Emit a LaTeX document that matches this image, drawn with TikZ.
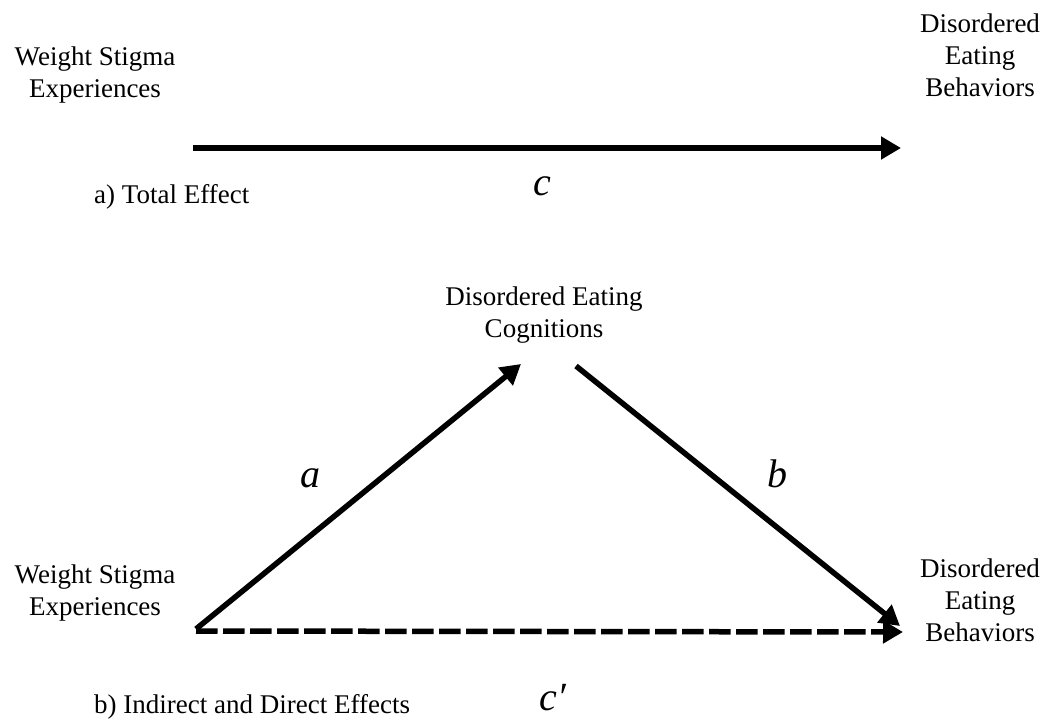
\documentclass[tikz,border=0pt]{standalone}
\usepackage{fontspec}
\setmainfont{Liberation Serif}
\newfontfamily\labfont{Liberation Serif}
\usetikzlibrary{arrows.meta}
\tikzset{
  txt/.style={font=\fontsize{27}{32}\selectfont, align=center, inner sep=0pt},
  lab/.style={font=\labfont\itshape\fontsize{40}{42}\selectfont, inner sep=0pt},
  conn/.style={line width=5.5pt, -{Triangle[length=20pt,width=22pt]}},
  dconn/.style={conn, dash pattern=on 21.5pt off 5.5pt}
}
\begin{document}
\begin{tikzpicture}[x=1pt,y=-1pt]
\useasboundingbox (0,0) rectangle (1049,723);
% panel a
\node[txt] (w1) at (95,75) {Weight Stigma\\Experiences};
\node[txt] (d1) at (980,55) {Disordered\\Eating\\Behaviors};
\coordinate (a1s) at (193,148);
\coordinate (a1e) at (901,148);
\draw[conn] (a1s) -- (a1e);
\node[lab] (c) at (542,186) {c};
\node[txt, anchor=west] (ta) at (94,197) {a) Total Effect};
% panel b
\node[txt] (m) at (544,315) {Disordered Eating\\Cognitions};
\node[txt] (w2) at (95,593) {Weight Stigma\\Experiences};
\node[txt] (d2) at (980,600) {Disordered\\Eating\\Behaviors};
\coordinate (bs) at (196,629);
\coordinate (bm) at (521,364);
\coordinate (bm2) at (576,366);
\coordinate (be) at (900,626);
\coordinate (ds) at (196,631);
\coordinate (de) at (903,632);
\draw[conn] (bs) -- (bm);
\draw[conn] (bm2) -- (be);
\draw[dconn] (ds) -- (de);
\node[lab] (la) at (310,478) {a};
\node[lab] (lb) at (777,474) {b};
\node[lab] (lc) at (553,698) {c′};
\node[txt, anchor=west] (tb) at (94,707) {b) Indirect and Direct Effects};
\end{tikzpicture}
\end{document}
